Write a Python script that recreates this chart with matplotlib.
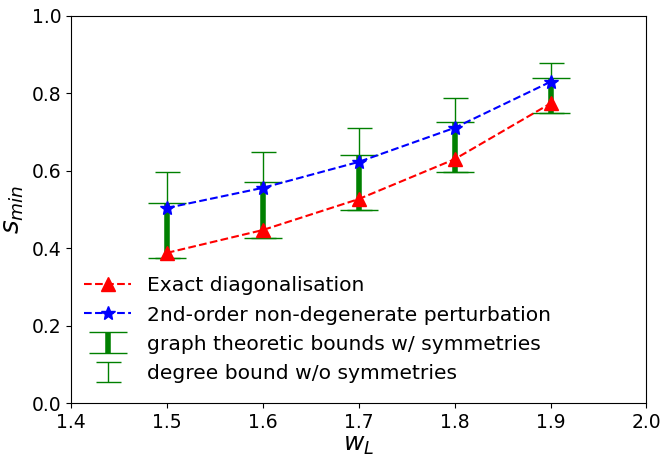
import numpy as np
import matplotlib
matplotlib.use("Agg")
import matplotlib.pyplot as plt

w_L = [1.5, 1.6, 1.7, 1.8, 1.9]
exact = [0.388, 0.447, 0.527, 0.630, 0.774]
perturb = [0.504, 0.556, 0.623, 0.711, 0.830]
sym_lower = [0.375, 0.427, 0.499, 0.598, 0.749]
sym_upper = [0.518, 0.572, 0.641, 0.727, 0.841]
deg_upper = [0.598, 0.649, 0.711, 0.787, 0.879]

fig, ax = plt.subplots(figsize=(6.63, 4.57), dpi=100)
fig.subplots_adjust(left=0.107, right=0.975, top=0.965, bottom=0.118)

x = np.array(w_L)
lo = np.array(sym_lower)
hi = np.array(sym_upper)
du = np.array(deg_upper)

# thin bars: degree bound without symmetries
mid_d = (lo + du) / 2
ax.errorbar(x, mid_d, yerr=[mid_d - lo, du - mid_d], fmt='none', ecolor='green',
            elinewidth=1, capsize=9, capthick=1,
            label='degree bound w/o symmetries', zorder=2)
# thick bars: graph theoretic bounds with symmetries
mid_s = (lo + hi) / 2
ax.errorbar(x, mid_s, yerr=[mid_s - lo, hi - mid_s], fmt='none', ecolor='green',
            elinewidth=4, capsize=13.5, capthick=1,
            label='graph theoretic bounds w/ symmetries', zorder=2)

ax.plot(w_L, exact, 'r--^', markersize=10, label='Exact diagonalisation', zorder=3)
ax.plot(w_L, perturb, 'b--*', markersize=10, label='2nd-order non-degenerate perturbation', zorder=3)

ax.set_xlim(1.4, 2.0)
ax.set_ylim(0.0, 1.0)
ax.set_xlabel('$w_L$', fontsize=18, labelpad=1)
ax.set_ylabel('$s_{min}$', fontsize=19)
ax.tick_params(labelsize=13.5)

handles, labels = ax.get_legend_handles_labels()
order = [0, 1, 3, 2]
ax.legend([handles[i] for i in order], [labels[i] for i in order],
          loc='lower left', bbox_to_anchor=(-0.012, 0.0), frameon=False,
          fontsize=14.6, borderaxespad=0.6,
          handlelength=2.3, handletextpad=0.8, labelspacing=0.5)

plt.savefig('out.png', dpi=100)
